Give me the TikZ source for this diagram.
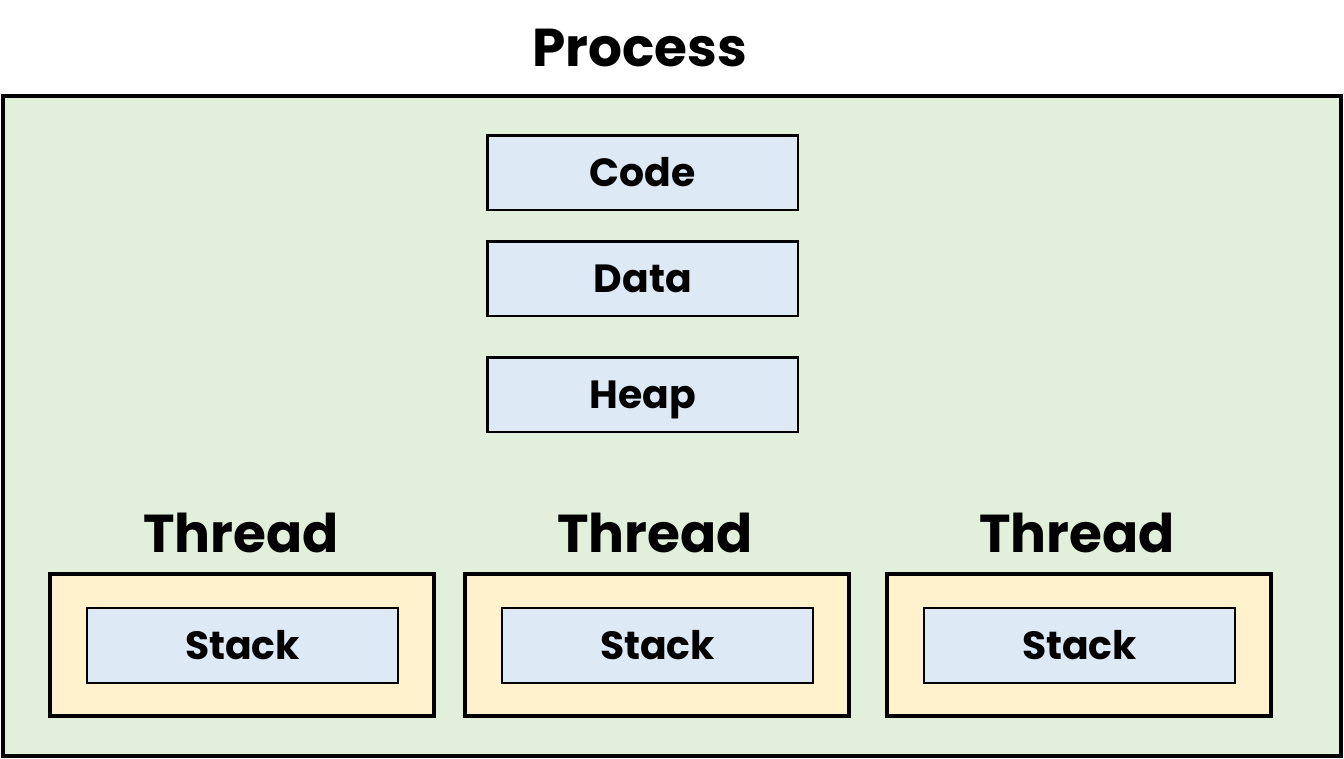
\documentclass[tikz,border=0pt]{standalone}
\usepackage{fontspec}
\setmainfont{Poppins}[BoldFont={Poppins Bold}]
\definecolor{procfill}{HTML}{E2EFDA}
\definecolor{segfill}{HTML}{DEE9F6}
\definecolor{threadfill}{HTML}{FFF2CC}
\begin{document}
\begin{tikzpicture}[x=0.75pt,y=-0.75pt,
  procbox/.style={draw=black,line width=3.2pt,fill=procfill},
  threadbox/.style={draw=black,line width=3.2pt,fill=threadfill},
  segbox/.style={draw=black,line width=2pt,fill=segfill},
  seglabel/.style={font=\fontsize{29.5}{29.5}\selectfont\bfseries,text height=20.6pt,text depth=0pt,inner sep=0pt},
  biglabel/.style={font=\fontsize{40}{40}\selectfont\bfseries,text height=28pt,text depth=0pt,inner sep=0pt}]
\useasboundingbox (0,0) rectangle (1344,759);
% process outline
\draw[procbox] (3,96) rectangle (1341,756);
\node[biglabel] (proc) at (640,48) {Process};
% shared segments
\draw[segbox] (487.5,135.5) rectangle (798,210) node[midway,seglabel] (code) {Code};
\draw[segbox] (487.5,241.5) rectangle (798,316) node[midway,seglabel] (data) {Data};
\draw[segbox] (487.5,357.5) rectangle (798,432) node[midway,seglabel] (heap) {Heap};
% threads with their stacks
\foreach \tx/\sx/\lx/\n in {50/87/241/a, 465/502/655/b, 887/924/1077/c}{
  \draw[threadbox] (\tx,574) rectangle ++(384,142);
  \node[biglabel] (thread\n) at (\lx,534) {Thread};
  \draw[segbox] (\sx,608) rectangle ++(311,75) node[midway,seglabel] (stack\n) {Stack};
}
\end{tikzpicture}
\end{document}
